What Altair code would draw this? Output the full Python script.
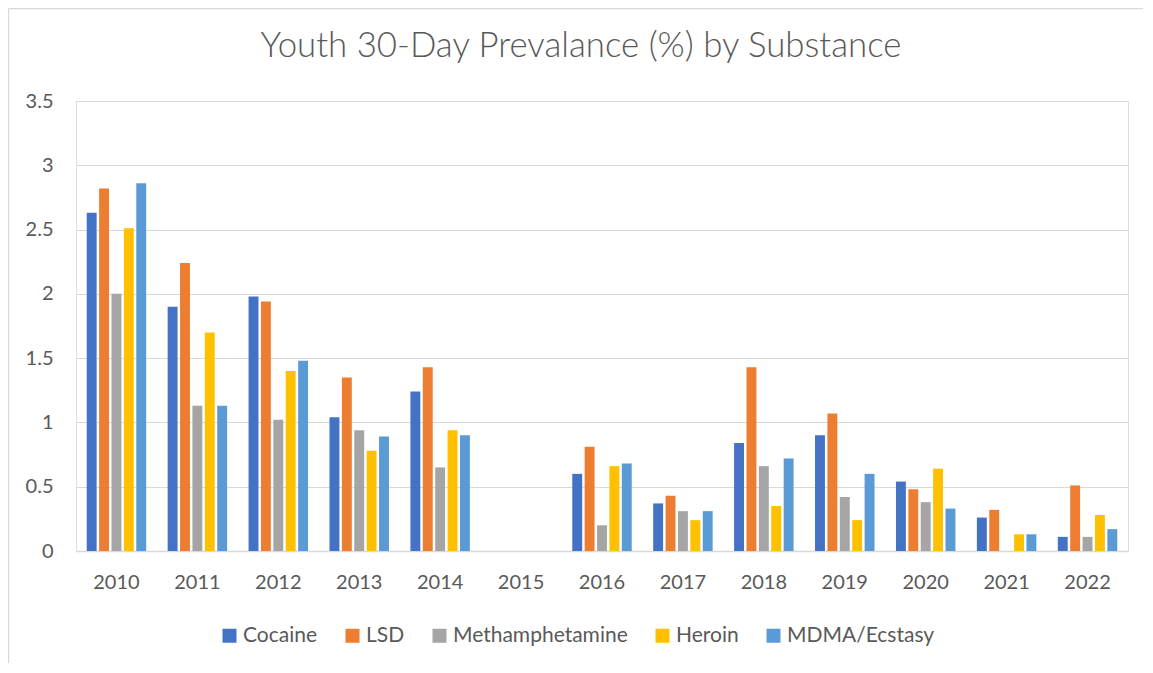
import altair as alt
import pandas as pd

years = ["2010", "2011", "2012", "2013", "2014", "2015", "2016",
         "2017", "2018", "2019", "2020", "2021", "2022"]
substances = ["Cocaine", "LSD", "Methamphetamine", "Heroin", "MDMA/Ecstasy"]
colors = ["#4472C4", "#ED7D31", "#A5A5A5", "#FFC000", "#5B9BD5"]
title_text = "Youth 30-Day Prevalance (%) by Substance"

cocaine = [2.63, 1.90, 1.98, 1.04, 1.24, None, 0.60, 0.37, 0.84, 0.90, 0.54, 0.26, 0.11]
lsd = [2.82, 2.24, 1.94, 1.35, 1.43, None, 0.81, 0.43, 1.43, 1.07, 0.48, 0.32, 0.51]
meth = [2.00, 1.13, 1.02, 0.94, 0.65, None, 0.20, 0.31, 0.66, 0.42, 0.38, None, 0.11]
heroin = [2.51, 1.70, 1.40, 0.78, 0.94, None, 0.66, 0.24, 0.35, 0.24, 0.64, 0.13, 0.28]
mdma = [2.86, 1.13, 1.48, 0.89, 0.90, None, 0.68, 0.31, 0.72, 0.60, 0.33, 0.13, 0.17]

series = dict(zip(substances, [cocaine, lsd, meth, heroin, mdma]))
rows = []
for s, vals in series.items():
    for y, v in zip(years, vals):
        if v is not None:
            rows.append({"Year": y, "Substance": s, "Value": v})
df = pd.DataFrame(rows)

FONT = "Lato"
TXT = "#595959"
GRID = "#D9D9D9"
W, H = 1052, 450

bars = alt.Chart(df).mark_bar().encode(
    x=alt.X("Year:N", sort=years,
            scale=alt.Scale(domain=years, paddingInner=0.265, paddingOuter=0.1325),
            axis=alt.Axis(title=None, labelAngle=0, ticks=False, labelPadding=21,
                          labelFontSize=20, labelFont=FONT, labelColor=TXT,
                          domainColor=GRID, domainWidth=1.5, grid=False)),
    xOffset=alt.XOffset("Substance:N", sort=substances,
                        scale=alt.Scale(domain=substances, paddingInner=0.2, paddingOuter=0)),
    y=alt.Y("Value:Q",
            scale=alt.Scale(domain=[0, 3.5], nice=False),
            axis=alt.Axis(title=None, values=[0, 0.5, 1, 1.5, 2, 2.5, 3, 3.5],
                          format="~g", ticks=False, domain=False, labelPadding=23,
                          labelFontSize=20, labelFont=FONT, labelColor=TXT,
                          gridColor=GRID, gridWidth=1.2)),
    color=alt.Color("Substance:N", sort=substances,
                    scale=alt.Scale(domain=substances, range=colors),
                    legend=alt.Legend(title=None, orient="none", direction="horizontal",
                                      legendX=143, legendY=524,
                                      symbolType="square", symbolSize=196,
                                      symbolStrokeWidth=0, labelOffset=3,
                                      columnPadding=24, labelLimit=400,
                                      labelFontSize=21, labelFont=FONT,
                                      labelColor=TXT)),
)

title = alt.Chart(pd.DataFrame({"t": [title_text]})).mark_text(
    font=FONT, fontSize=34.8, fontWeight=300, color=TXT, align="center",
    baseline="alphabetic"
).encode(text="t:N", x=alt.value(505), y=alt.value(-44))

border = alt.Chart(pd.DataFrame({"k": [0]})).mark_rule(color=GRID, strokeWidth=1.5).encode(
    x=alt.value(-67.5), y=alt.value(-92.5), y2=alt.value(H + 130)
)
border_top = alt.Chart(pd.DataFrame({"k": [0]})).mark_rule(color=GRID, strokeWidth=1.5).encode(
    x=alt.value(-67.5), x2=alt.value(W + 30), y=alt.value(-92.5)
)

chart = alt.layer(bars, title, border, border_top).properties(
    width=W, height=H,
    padding={"left": 68, "top": 93, "right": 15, "bottom": 112},
    autosize=alt.AutoSizeParams(type="none"),
).configure_view(stroke=None).configure(background="white")

chart.save("out.html", embed_options={"renderer": "svg", "actions": False})
